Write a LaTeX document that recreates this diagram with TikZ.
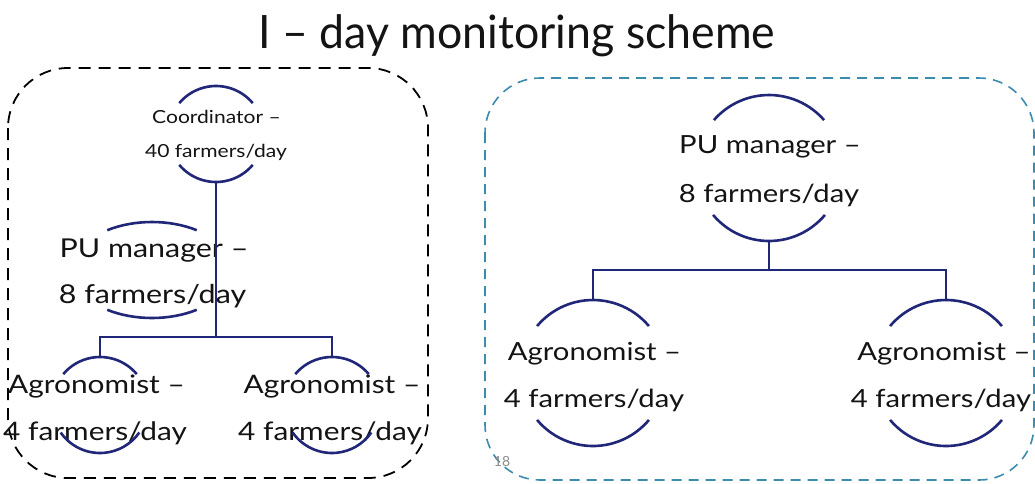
\documentclass[tikz,border=0pt]{standalone}
\usepackage{fontspec}
\setmainfont{Lato}
\newfontfamily\bodyfont{Lato}[FakeStretch=1.17]
\newfontfamily\titlefont{Lato}[FakeStretch=0.97]
\usetikzlibrary{calc}
\definecolor{navy}{RGB}{32,38,120}
\definecolor{tealbox}{RGB}{60,140,175}
\definecolor{txt}{RGB}{20,20,20}
\newcommand{\dsp}{\hspace{0.3em}}
\begin{document}
\begin{tikzpicture}[x=1pt,y=1pt,
  conn/.style={draw=navy, line width=2.8pt},
  arcline/.style={draw=navy, line width=2.6pt},
  ring/.style={circle, inner sep=0pt, outer sep=0pt, minimum size=#1},
  lbl/.style={anchor=base, text=txt, inner sep=0pt, font=\bodyfont\fontsize{#1}{#1}\selectfont},
  blackbox/.style={draw=black, line width=1.8pt, dash pattern=on 12pt off 8pt, rounded corners=60pt},
  tealframe/.style={draw=tealbox, line width=1.6pt, dash pattern=on 10pt off 7pt, rounded corners=55pt},
]
\useasboundingbox (0,0) rectangle (1035,-483);
\fill[white] (0,0) rectangle (1035,-483);

% title
\node[anchor=base, inner sep=0pt, text=txt, font=\titlefont\fontsize{46}{46}\selectfont] (title) at (517,-48) {I – day monitoring scheme};

% frames
\draw[blackbox] (8,-68) rectangle (428,-478);
\draw[tealframe] (485,-78) rectangle (1034,-480);

% ring placeholders (circle outlines of each role)
\node[ring=96] (coC) at (216,-134) {};
\node[ring=146] (puR) at (769,-168) {};
\node[ring=96] (agL1) at (100,-405) {};
\node[ring=96] (agL2) at (332,-405) {};
\node[ring=146] (agR1) at (593,-373) {};
\node[ring=146] (agR2) at (946,-373) {};
\coordinate (puLc) at (152,-270);

% texts
\node[lbl=18] (coT1) at (216.5,-123) {Coordinator\dsp–};
\node[lbl=18] (coT2) at (216,-157) {40 farmers/day};
\node[lbl=26] (puLT1) at (154,-257) {PU manager\dsp–};
\node[lbl=26] (puLT2) at (152.5,-303) {8 farmers/day};
\node[lbl=25.5] (agL1T1) at (96.5,-393) {Agronomist\dsp–};
\node[lbl=25.5] (agL1T2) at (95,-440) {4 farmers/day};
\node[lbl=25.5] (agL2T1) at (332,-393) {Agronomist\dsp–};
\node[lbl=25.5] (agL2T2) at (330,-440) {4 farmers/day};
\node[lbl=25] (puRT1) at (770,-153) {PU manager\dsp–};
\node[lbl=25] (puRT2) at (769,-202) {8 farmers/day};
\node[lbl=25] (agR1T1) at (594.5,-360) {Agronomist\dsp–};
\node[lbl=25] (agR1T2) at (594,-407) {4 farmers/day};
\node[lbl=25] (agR2T1) at (944,-360) {Agronomist\dsp–};
\node[lbl=25] (agR2T2) at (941,-407) {4 farmers/day};
\node[anchor=base, inner sep=0pt, text=black!45, font=\fontsize{14}{14}\selectfont] (pageno) at (502,-466) {18};

% arcs
\draw[arcline] (coC.40) arc[start angle=40,end angle=140,radius=48];
\draw[arcline] (coC.220) arc[start angle=220,end angle=320,radius=48];
\draw[arcline] ($(puLc)+(56:80 and 48)$) arc[start angle=56,end angle=124,x radius=80,y radius=48];
\draw[arcline] ($(puLc)+(236:80 and 48)$) arc[start angle=236,end angle=304,x radius=80,y radius=48];
\foreach \n in {agL1,agL2}{
  \draw[arcline] (\n.40) arc[start angle=40,end angle=140,radius=48];
  \draw[arcline] (\n.215) arc[start angle=215,end angle=325,radius=48];
}
\draw[arcline] (puR.41) arc[start angle=41,end angle=139,radius=73];
\draw[arcline] (puR.220) arc[start angle=220,end angle=320,radius=73];
\foreach \n in {agR1,agR2}{
  \draw[arcline] (\n.40) arc[start angle=40,end angle=140,radius=73];
  \draw[arcline] (\n.220) arc[start angle=220,end angle=320,radius=73];
}

% connectors
\coordinate (jL) at (216,-337);
\coordinate (jR) at (769,-270);
\draw[conn] (coC.south) -- (jL);
\draw[conn] (agL1.north) -- (agL1.north |- jL) -- (agL2.north |- jL) -- (agL2.north);
\draw[conn] (puR.south) -- (jR);
\draw[conn] (agR1.north) -- (agR1.north |- jR) -- (agR2.north |- jR) -- (agR2.north);
\end{tikzpicture}
\end{document}
